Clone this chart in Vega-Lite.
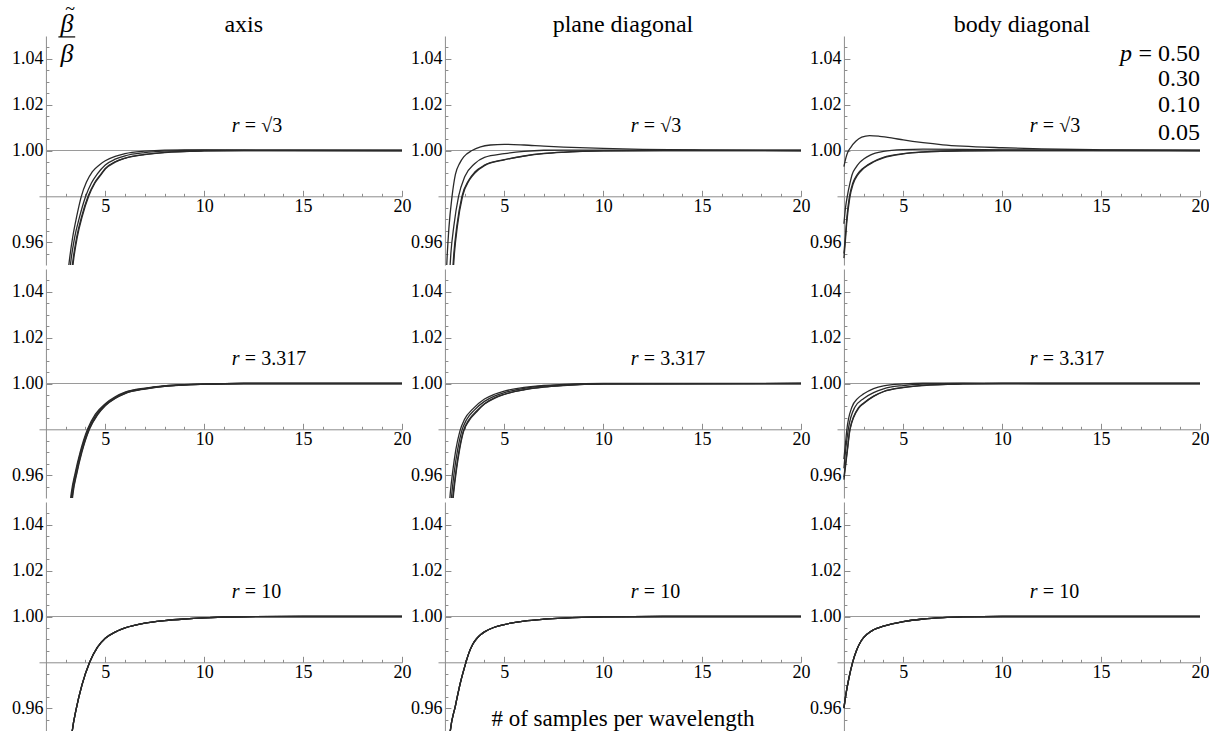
{
"$schema": "https://vega.github.io/schema/vega-lite/v6.json",
"background": "white",
"padding": {"left": 11, "top": 0, "right": 0, "bottom": 0},
"bounds": "flush",
"columns": 3,
"spacing": {"row": 4, "column": 36},
"config": {"view": {"stroke": null}, "text": {"font": "Liberation Serif", "color": "#000"}, "axis": {"labelFont": "Liberation Serif", "labelFontSize": 18, "labelColor": "#000", "tickColor": "#8c8c8c", "domainColor": "#8c8c8c", "grid": false}},
"datasets": {"curves": [
{"panel":"A1","p":"0.50","x":3.08,"y":0.944},{"panel":"A1","p":"0.50","x":3.2,"y":0.953},{"panel":"A1","p":"0.50","x":3.35,"y":0.962},{"panel":"A1","p":"0.50","x":3.55,"y":0.971},{"panel":"A1","p":"0.50","x":3.79,"y":0.98},{"panel":"A1","p":"0.50","x":4.05,"y":0.9862},{"panel":"A1","p":"0.50","x":4.35,"y":0.9908},{"panel":"A1","p":"0.50","x":4.7,"y":0.9937},{"panel":"A1","p":"0.50","x":5,"y":0.9955},{"panel":"A1","p":"0.50","x":5.5,"y":0.9974},{"panel":"A1","p":"0.50","x":6,"y":0.9986},{"panel":"A1","p":"0.50","x":7,"y":0.9997},{"panel":"A1","p":"0.50","x":8,"y":1.0002},{"panel":"A1","p":"0.50","x":9,"y":1.0003},{"panel":"A1","p":"0.50","x":11,"y":1.0003},{"panel":"A1","p":"0.50","x":14,"y":1.0001},{"panel":"A1","p":"0.50","x":20,"y":1.0},
{"panel":"A1","p":"0.30","x":3.16,"y":0.944},{"panel":"A1","p":"0.30","x":3.28,"y":0.953},{"panel":"A1","p":"0.30","x":3.45,"y":0.962},{"panel":"A1","p":"0.30","x":3.7,"y":0.971},{"panel":"A1","p":"0.30","x":4.01,"y":0.98},{"panel":"A1","p":"0.30","x":4.3,"y":0.9858},{"panel":"A1","p":"0.30","x":4.6,"y":0.9898},{"panel":"A1","p":"0.30","x":5,"y":0.9937},{"panel":"A1","p":"0.30","x":5.5,"y":0.9962},{"panel":"A1","p":"0.30","x":6,"y":0.9977},{"panel":"A1","p":"0.30","x":7,"y":0.9991},{"panel":"A1","p":"0.30","x":8,"y":0.9997},{"panel":"A1","p":"0.30","x":10,"y":1.0001},{"panel":"A1","p":"0.30","x":20,"y":1.0},
{"panel":"A1","p":"0.10","x":3.26,"y":0.944},{"panel":"A1","p":"0.10","x":3.38,"y":0.953},{"panel":"A1","p":"0.10","x":3.55,"y":0.962},{"panel":"A1","p":"0.10","x":3.8,"y":0.971},{"panel":"A1","p":"0.10","x":4.13,"y":0.98},{"panel":"A1","p":"0.10","x":4.45,"y":0.9858},{"panel":"A1","p":"0.10","x":4.77,"y":0.9896},{"panel":"A1","p":"0.10","x":5,"y":0.9922},{"panel":"A1","p":"0.10","x":5.5,"y":0.9951},{"panel":"A1","p":"0.10","x":6,"y":0.9967},{"panel":"A1","p":"0.10","x":7,"y":0.9983},{"panel":"A1","p":"0.10","x":8,"y":0.9992},{"panel":"A1","p":"0.10","x":10,"y":0.9998},{"panel":"A1","p":"0.10","x":12,"y":1.0},{"panel":"A1","p":"0.10","x":20,"y":1.0},
{"panel":"A1","p":"0.05","x":3.29,"y":0.944},{"panel":"A1","p":"0.05","x":3.41,"y":0.953},{"panel":"A1","p":"0.05","x":3.58,"y":0.962},{"panel":"A1","p":"0.05","x":3.83,"y":0.971},{"panel":"A1","p":"0.05","x":4.16,"y":0.98},{"panel":"A1","p":"0.05","x":4.48,"y":0.9858},{"panel":"A1","p":"0.05","x":4.8,"y":0.9896},{"panel":"A1","p":"0.05","x":5,"y":0.9919},{"panel":"A1","p":"0.05","x":5.5,"y":0.9949},{"panel":"A1","p":"0.05","x":6,"y":0.9966},{"panel":"A1","p":"0.05","x":7,"y":0.9982},{"panel":"A1","p":"0.05","x":8,"y":0.9991},{"panel":"A1","p":"0.05","x":10,"y":0.9998},{"panel":"A1","p":"0.05","x":12,"y":1.0},{"panel":"A1","p":"0.05","x":20,"y":1.0},
{"panel":"P1","p":"0.50","x":2.06,"y":0.944},{"panel":"P1","p":"0.50","x":2.12,"y":0.955},{"panel":"P1","p":"0.50","x":2.2,"y":0.966},{"panel":"P1","p":"0.50","x":2.36,"y":0.98},{"panel":"P1","p":"0.50","x":2.53,"y":0.9896},{"panel":"P1","p":"0.50","x":2.75,"y":0.9945},{"panel":"P1","p":"0.50","x":2.95,"y":0.9972},{"panel":"P1","p":"0.50","x":3.37,"y":1.0},{"panel":"P1","p":"0.50","x":3.8,"y":1.0016},{"panel":"P1","p":"0.50","x":4.3,"y":1.0024},{"panel":"P1","p":"0.50","x":5,"y":1.0027},{"panel":"P1","p":"0.50","x":6,"y":1.0024},{"panel":"P1","p":"0.50","x":7,"y":1.0019},{"panel":"P1","p":"0.50","x":8,"y":1.0015},{"panel":"P1","p":"0.50","x":10,"y":1.0009},{"panel":"P1","p":"0.50","x":12,"y":1.0005},{"panel":"P1","p":"0.50","x":15,"y":1.0002},{"panel":"P1","p":"0.50","x":20,"y":1.0},
{"panel":"P1","p":"0.30","x":2.22,"y":0.944},{"panel":"P1","p":"0.30","x":2.3,"y":0.955},{"panel":"P1","p":"0.30","x":2.45,"y":0.967},{"panel":"P1","p":"0.30","x":2.69,"y":0.98},{"panel":"P1","p":"0.30","x":3.0,"y":0.9885},{"panel":"P1","p":"0.30","x":3.5,"y":0.9942},{"panel":"P1","p":"0.30","x":4,"y":0.997},{"panel":"P1","p":"0.30","x":5,"y":0.9986},{"panel":"P1","p":"0.30","x":6,"y":0.9996},{"panel":"P1","p":"0.30","x":7,"y":1.0001},{"panel":"P1","p":"0.30","x":8,"y":1.0002},{"panel":"P1","p":"0.30","x":10,"y":1.0002},{"panel":"P1","p":"0.30","x":14,"y":1.0001},{"panel":"P1","p":"0.30","x":20,"y":1.0},
{"panel":"P1","p":"0.10","x":2.36,"y":0.944},{"panel":"P1","p":"0.10","x":2.45,"y":0.955},{"panel":"P1","p":"0.10","x":2.6,"y":0.967},{"panel":"P1","p":"0.10","x":2.86,"y":0.98},{"panel":"P1","p":"0.10","x":3.2,"y":0.987},{"panel":"P1","p":"0.10","x":3.5,"y":0.9905},{"panel":"P1","p":"0.10","x":4,"y":0.9936},{"panel":"P1","p":"0.10","x":5,"y":0.996},{"panel":"P1","p":"0.10","x":6,"y":0.9976},{"panel":"P1","p":"0.10","x":7,"y":0.9987},{"panel":"P1","p":"0.10","x":8,"y":0.9993},{"panel":"P1","p":"0.10","x":10,"y":0.9998},{"panel":"P1","p":"0.10","x":13,"y":1.0},{"panel":"P1","p":"0.10","x":20,"y":1.0},
{"panel":"P1","p":"0.05","x":2.39,"y":0.944},{"panel":"P1","p":"0.05","x":2.48,"y":0.955},{"panel":"P1","p":"0.05","x":2.63,"y":0.967},{"panel":"P1","p":"0.05","x":2.89,"y":0.98},{"panel":"P1","p":"0.05","x":3.23,"y":0.987},{"panel":"P1","p":"0.05","x":3.53,"y":0.9903},{"panel":"P1","p":"0.05","x":4,"y":0.9934},{"panel":"P1","p":"0.05","x":5,"y":0.9959},{"panel":"P1","p":"0.05","x":6,"y":0.9975},{"panel":"P1","p":"0.05","x":7,"y":0.9986},{"panel":"P1","p":"0.05","x":8,"y":0.9992},{"panel":"P1","p":"0.05","x":10,"y":0.9998},{"panel":"P1","p":"0.05","x":13,"y":1.0},{"panel":"P1","p":"0.05","x":20,"y":1.0},
{"panel":"B1","p":"0.50","x":2.0,"y":0.993},{"panel":"B1","p":"0.50","x":2.1,"y":0.9968},{"panel":"B1","p":"0.50","x":2.2,"y":0.9993},{"panel":"B1","p":"0.50","x":2.34,"y":1.0013},{"panel":"B1","p":"0.50","x":2.6,"y":1.004},{"panel":"B1","p":"0.50","x":2.9,"y":1.0058},{"panel":"B1","p":"0.50","x":3.3,"y":1.0065},{"panel":"B1","p":"0.50","x":3.8,"y":1.0062},{"panel":"B1","p":"0.50","x":4.4,"y":1.0055},{"panel":"B1","p":"0.50","x":5,"y":1.0046},{"panel":"B1","p":"0.50","x":6,"y":1.0034},{"panel":"B1","p":"0.50","x":7,"y":1.0025},{"panel":"B1","p":"0.50","x":8,"y":1.0019},{"panel":"B1","p":"0.50","x":10,"y":1.0012},{"panel":"B1","p":"0.50","x":12,"y":1.0007},{"panel":"B1","p":"0.50","x":15,"y":1.0003},{"panel":"B1","p":"0.50","x":20,"y":1.0},
{"panel":"B1","p":"0.30","x":2.0,"y":0.968},{"panel":"B1","p":"0.30","x":2.08,"y":0.975},{"panel":"B1","p":"0.30","x":2.17,"y":0.98},{"panel":"B1","p":"0.30","x":2.3,"y":0.9855},{"panel":"B1","p":"0.30","x":2.42,"y":0.9896},{"panel":"B1","p":"0.30","x":2.6,"y":0.9925},{"panel":"B1","p":"0.30","x":2.8,"y":0.9948},{"panel":"B1","p":"0.30","x":3.0,"y":0.9963},{"panel":"B1","p":"0.30","x":3.33,"y":0.998},{"panel":"B1","p":"0.30","x":4,"y":0.9996},{"panel":"B1","p":"0.30","x":5,"y":1.0004},{"panel":"B1","p":"0.30","x":6,"y":1.0006},{"panel":"B1","p":"0.30","x":8,"y":1.0005},{"panel":"B1","p":"0.30","x":10,"y":1.0003},{"panel":"B1","p":"0.30","x":14,"y":1.0001},{"panel":"B1","p":"0.30","x":20,"y":1.0},
{"panel":"B1","p":"0.10","x":2.0,"y":0.955},{"panel":"B1","p":"0.10","x":2.06,"y":0.961},{"panel":"B1","p":"0.10","x":2.15,"y":0.971},{"panel":"B1","p":"0.10","x":2.28,"y":0.98},{"panel":"B1","p":"0.10","x":2.45,"y":0.9858},{"panel":"B1","p":"0.10","x":2.68,"y":0.9896},{"panel":"B1","p":"0.10","x":3.0,"y":0.9925},{"panel":"B1","p":"0.10","x":3.5,"y":0.9952},{"panel":"B1","p":"0.10","x":4,"y":0.997},{"panel":"B1","p":"0.10","x":5,"y":0.9986},{"panel":"B1","p":"0.10","x":6,"y":0.9994},{"panel":"B1","p":"0.10","x":8,"y":0.9999},{"panel":"B1","p":"0.10","x":10,"y":1.0},{"panel":"B1","p":"0.10","x":20,"y":1.0},
{"panel":"B1","p":"0.05","x":2.0,"y":0.953},{"panel":"B1","p":"0.05","x":2.06,"y":0.959},{"panel":"B1","p":"0.05","x":2.15,"y":0.969},{"panel":"B1","p":"0.05","x":2.29,"y":0.979},{"panel":"B1","p":"0.05","x":2.47,"y":0.9855},{"panel":"B1","p":"0.05","x":2.7,"y":0.9893},{"panel":"B1","p":"0.05","x":3.0,"y":0.9922},{"panel":"B1","p":"0.05","x":3.5,"y":0.995},{"panel":"B1","p":"0.05","x":4,"y":0.9968},{"panel":"B1","p":"0.05","x":5,"y":0.9985},{"panel":"B1","p":"0.05","x":6,"y":0.9993},{"panel":"B1","p":"0.05","x":8,"y":0.9999},{"panel":"B1","p":"0.05","x":10,"y":1.0},{"panel":"B1","p":"0.05","x":20,"y":1.0},
{"panel":"A2","p":"0.50","x":3.18,"y":0.944},{"panel":"A2","p":"0.50","x":3.28,"y":0.952},{"panel":"A2","p":"0.50","x":3.48,"y":0.961},{"panel":"A2","p":"0.50","x":3.73,"y":0.97},{"panel":"A2","p":"0.50","x":4.1,"y":0.98},{"panel":"A2","p":"0.50","x":4.5,"y":0.9866},{"panel":"A2","p":"0.50","x":5,"y":0.9912},{"panel":"A2","p":"0.50","x":5.5,"y":0.9942},{"panel":"A2","p":"0.50","x":6,"y":0.9962},{"panel":"A2","p":"0.50","x":7,"y":0.998},{"panel":"A2","p":"0.50","x":8,"y":0.999},{"panel":"A2","p":"0.50","x":9,"y":0.9995},{"panel":"A2","p":"0.50","x":10,"y":0.9998},{"panel":"A2","p":"0.50","x":12,"y":1.0},{"panel":"A2","p":"0.50","x":20,"y":1.0},
{"panel":"A2","p":"0.30","x":3.21,"y":0.944},{"panel":"A2","p":"0.30","x":3.31,"y":0.952},{"panel":"A2","p":"0.30","x":3.51,"y":0.961},{"panel":"A2","p":"0.30","x":3.76,"y":0.97},{"panel":"A2","p":"0.30","x":4.14,"y":0.98},{"panel":"A2","p":"0.30","x":4.55,"y":0.9865},{"panel":"A2","p":"0.30","x":5,"y":0.9908},{"panel":"A2","p":"0.30","x":5.5,"y":0.9939},{"panel":"A2","p":"0.30","x":6,"y":0.996},{"panel":"A2","p":"0.30","x":7,"y":0.9978},{"panel":"A2","p":"0.30","x":8,"y":0.9989},{"panel":"A2","p":"0.30","x":9,"y":0.9994},{"panel":"A2","p":"0.30","x":10,"y":0.9997},{"panel":"A2","p":"0.30","x":12,"y":1.0},{"panel":"A2","p":"0.30","x":20,"y":1.0},
{"panel":"A2","p":"0.10","x":3.25,"y":0.944},{"panel":"A2","p":"0.10","x":3.35,"y":0.952},{"panel":"A2","p":"0.10","x":3.55,"y":0.961},{"panel":"A2","p":"0.10","x":3.8,"y":0.97},{"panel":"A2","p":"0.10","x":4.18,"y":0.98},{"panel":"A2","p":"0.10","x":4.6,"y":0.9865},{"panel":"A2","p":"0.10","x":5,"y":0.9905},{"panel":"A2","p":"0.10","x":5.5,"y":0.9936},{"panel":"A2","p":"0.10","x":6,"y":0.9957},{"panel":"A2","p":"0.10","x":7,"y":0.9977},{"panel":"A2","p":"0.10","x":8,"y":0.9988},{"panel":"A2","p":"0.10","x":9,"y":0.9994},{"panel":"A2","p":"0.10","x":10,"y":0.9997},{"panel":"A2","p":"0.10","x":12,"y":1.0},{"panel":"A2","p":"0.10","x":20,"y":1.0},
{"panel":"A2","p":"0.05","x":3.27,"y":0.944},{"panel":"A2","p":"0.05","x":3.37,"y":0.952},{"panel":"A2","p":"0.05","x":3.57,"y":0.961},{"panel":"A2","p":"0.05","x":3.82,"y":0.97},{"panel":"A2","p":"0.05","x":4.2,"y":0.98},{"panel":"A2","p":"0.05","x":4.62,"y":0.9864},{"panel":"A2","p":"0.05","x":5,"y":0.9903},{"panel":"A2","p":"0.05","x":5.5,"y":0.9935},{"panel":"A2","p":"0.05","x":6,"y":0.9956},{"panel":"A2","p":"0.05","x":7,"y":0.9976},{"panel":"A2","p":"0.05","x":8,"y":0.9988},{"panel":"A2","p":"0.05","x":9,"y":0.9993},{"panel":"A2","p":"0.05","x":10,"y":0.9997},{"panel":"A2","p":"0.05","x":12,"y":1.0},{"panel":"A2","p":"0.05","x":20,"y":1.0},
{"panel":"P2","p":"0.50","x":2.2,"y":0.944},{"panel":"P2","p":"0.50","x":2.27,"y":0.952},{"panel":"P2","p":"0.50","x":2.4,"y":0.962},{"panel":"P2","p":"0.50","x":2.55,"y":0.971},{"panel":"P2","p":"0.50","x":2.75,"y":0.979},{"panel":"P2","p":"0.50","x":3.0,"y":0.9845},{"panel":"P2","p":"0.50","x":3.4,"y":0.9888},{"panel":"P2","p":"0.50","x":4,"y":0.9932},{"panel":"P2","p":"0.50","x":4.5,"y":0.9953},{"panel":"P2","p":"0.50","x":5,"y":0.9967},{"panel":"P2","p":"0.50","x":6,"y":0.9983},{"panel":"P2","p":"0.50","x":7,"y":0.9992},{"panel":"P2","p":"0.50","x":8,"y":0.9996},{"panel":"P2","p":"0.50","x":10,"y":1.0},{"panel":"P2","p":"0.50","x":20,"y":1.0},
{"panel":"P2","p":"0.30","x":2.27,"y":0.944},{"panel":"P2","p":"0.30","x":2.35,"y":0.952},{"panel":"P2","p":"0.30","x":2.48,"y":0.962},{"panel":"P2","p":"0.30","x":2.64,"y":0.971},{"panel":"P2","p":"0.30","x":2.84,"y":0.979},{"panel":"P2","p":"0.30","x":3.1,"y":0.9843},{"panel":"P2","p":"0.30","x":3.5,"y":0.9885},{"panel":"P2","p":"0.30","x":4,"y":0.9922},{"panel":"P2","p":"0.30","x":4.5,"y":0.9945},{"panel":"P2","p":"0.30","x":5,"y":0.996},{"panel":"P2","p":"0.30","x":6,"y":0.9979},{"panel":"P2","p":"0.30","x":7,"y":0.9989},{"panel":"P2","p":"0.30","x":8,"y":0.9994},{"panel":"P2","p":"0.30","x":10,"y":0.9999},{"panel":"P2","p":"0.30","x":20,"y":1.0},
{"panel":"P2","p":"0.10","x":2.33,"y":0.944},{"panel":"P2","p":"0.10","x":2.42,"y":0.952},{"panel":"P2","p":"0.10","x":2.56,"y":0.962},{"panel":"P2","p":"0.10","x":2.72,"y":0.971},{"panel":"P2","p":"0.10","x":2.92,"y":0.979},{"panel":"P2","p":"0.10","x":3.2,"y":0.984},{"panel":"P2","p":"0.10","x":3.6,"y":0.988},{"panel":"P2","p":"0.10","x":4,"y":0.9912},{"panel":"P2","p":"0.10","x":4.5,"y":0.9937},{"panel":"P2","p":"0.10","x":5,"y":0.9953},{"panel":"P2","p":"0.10","x":6,"y":0.9973},{"panel":"P2","p":"0.10","x":7,"y":0.9985},{"panel":"P2","p":"0.10","x":8,"y":0.9992},{"panel":"P2","p":"0.10","x":10,"y":0.9998},{"panel":"P2","p":"0.10","x":20,"y":1.0},
{"panel":"P2","p":"0.05","x":2.35,"y":0.944},{"panel":"P2","p":"0.05","x":2.44,"y":0.952},{"panel":"P2","p":"0.05","x":2.58,"y":0.962},{"panel":"P2","p":"0.05","x":2.74,"y":0.971},{"panel":"P2","p":"0.05","x":2.94,"y":0.979},{"panel":"P2","p":"0.05","x":3.22,"y":0.9838},{"panel":"P2","p":"0.05","x":3.62,"y":0.9878},{"panel":"P2","p":"0.05","x":4,"y":0.991},{"panel":"P2","p":"0.05","x":4.5,"y":0.9935},{"panel":"P2","p":"0.05","x":5,"y":0.9952},{"panel":"P2","p":"0.05","x":6,"y":0.9972},{"panel":"P2","p":"0.05","x":7,"y":0.9984},{"panel":"P2","p":"0.05","x":8,"y":0.9991},{"panel":"P2","p":"0.05","x":10,"y":0.9998},{"panel":"P2","p":"0.05","x":20,"y":1.0},
{"panel":"B2","p":"0.50","x":2.0,"y":0.967},{"panel":"B2","p":"0.50","x":2.08,"y":0.974},{"panel":"B2","p":"0.50","x":2.15,"y":0.98},{"panel":"B2","p":"0.50","x":2.4,"y":0.9896},{"panel":"B2","p":"0.50","x":2.7,"y":0.9935},{"panel":"B2","p":"0.50","x":3,"y":0.9955},{"panel":"B2","p":"0.50","x":3.5,"y":0.9978},{"panel":"B2","p":"0.50","x":4,"y":0.999},{"panel":"B2","p":"0.50","x":5,"y":0.9998},{"panel":"B2","p":"0.50","x":6,"y":1.0001},{"panel":"B2","p":"0.50","x":8,"y":1.0001},{"panel":"B2","p":"0.50","x":12,"y":1.0},{"panel":"B2","p":"0.50","x":20,"y":1.0},
{"panel":"B2","p":"0.30","x":2.0,"y":0.963},{"panel":"B2","p":"0.30","x":2.1,"y":0.972},{"panel":"B2","p":"0.30","x":2.22,"y":0.98},{"panel":"B2","p":"0.30","x":2.55,"y":0.9896},{"panel":"B2","p":"0.30","x":3,"y":0.9935},{"panel":"B2","p":"0.30","x":3.5,"y":0.996},{"panel":"B2","p":"0.30","x":4,"y":0.9977},{"panel":"B2","p":"0.30","x":5,"y":0.9991},{"panel":"B2","p":"0.30","x":6,"y":0.9997},{"panel":"B2","p":"0.30","x":8,"y":1.0},{"panel":"B2","p":"0.30","x":20,"y":1.0},
{"panel":"B2","p":"0.10","x":2.0,"y":0.959},{"panel":"B2","p":"0.10","x":2.07,"y":0.964},{"panel":"B2","p":"0.10","x":2.17,"y":0.971},{"panel":"B2","p":"0.10","x":2.3,"y":0.98},{"panel":"B2","p":"0.10","x":2.75,"y":0.9896},{"panel":"B2","p":"0.10","x":3,"y":0.9915},{"panel":"B2","p":"0.10","x":3.5,"y":0.9945},{"panel":"B2","p":"0.10","x":4,"y":0.9965},{"panel":"B2","p":"0.10","x":5,"y":0.9983},{"panel":"B2","p":"0.10","x":6,"y":0.9992},{"panel":"B2","p":"0.10","x":8,"y":0.9998},{"panel":"B2","p":"0.10","x":10,"y":1.0},{"panel":"B2","p":"0.10","x":20,"y":1.0},
{"panel":"B2","p":"0.05","x":2.0,"y":0.958},{"panel":"B2","p":"0.05","x":2.07,"y":0.963},{"panel":"B2","p":"0.05","x":2.18,"y":0.971},{"panel":"B2","p":"0.05","x":2.31,"y":0.98},{"panel":"B2","p":"0.05","x":2.77,"y":0.9895},{"panel":"B2","p":"0.05","x":3,"y":0.9913},{"panel":"B2","p":"0.05","x":3.5,"y":0.9944},{"panel":"B2","p":"0.05","x":4,"y":0.9964},{"panel":"B2","p":"0.05","x":5,"y":0.9982},{"panel":"B2","p":"0.05","x":6,"y":0.9991},{"panel":"B2","p":"0.05","x":8,"y":0.9998},{"panel":"B2","p":"0.05","x":10,"y":1.0},{"panel":"B2","p":"0.05","x":20,"y":1.0},
{"panel":"A3","p":"0.50","x":3.25,"y":0.944},{"panel":"A3","p":"0.50","x":3.33,"y":0.95},{"panel":"A3","p":"0.50","x":3.54,"y":0.96},{"panel":"A3","p":"0.50","x":3.82,"y":0.97},{"panel":"A3","p":"0.50","x":4.21,"y":0.98},{"panel":"A3","p":"0.50","x":4.6,"y":0.9865},{"panel":"A3","p":"0.50","x":5,"y":0.9905},{"panel":"A3","p":"0.50","x":5.5,"y":0.9932},{"panel":"A3","p":"0.50","x":6,"y":0.995},{"panel":"A3","p":"0.50","x":7,"y":0.9971},{"panel":"A3","p":"0.50","x":8,"y":0.9982},{"panel":"A3","p":"0.50","x":9,"y":0.9989},{"panel":"A3","p":"0.50","x":10,"y":0.9994},{"panel":"A3","p":"0.50","x":12,"y":0.9999},{"panel":"A3","p":"0.50","x":15,"y":1.0},{"panel":"A3","p":"0.50","x":20,"y":1.0},
{"panel":"A3","p":"0.30","x":3.25,"y":0.944},{"panel":"A3","p":"0.30","x":3.33,"y":0.95},{"panel":"A3","p":"0.30","x":3.54,"y":0.96},{"panel":"A3","p":"0.30","x":3.82,"y":0.97},{"panel":"A3","p":"0.30","x":4.21,"y":0.98},{"panel":"A3","p":"0.30","x":4.6,"y":0.9865},{"panel":"A3","p":"0.30","x":5,"y":0.9905},{"panel":"A3","p":"0.30","x":5.5,"y":0.9932},{"panel":"A3","p":"0.30","x":6,"y":0.995},{"panel":"A3","p":"0.30","x":7,"y":0.9971},{"panel":"A3","p":"0.30","x":8,"y":0.9982},{"panel":"A3","p":"0.30","x":9,"y":0.9989},{"panel":"A3","p":"0.30","x":10,"y":0.9994},{"panel":"A3","p":"0.30","x":12,"y":0.9999},{"panel":"A3","p":"0.30","x":15,"y":1.0},{"panel":"A3","p":"0.30","x":20,"y":1.0},
{"panel":"A3","p":"0.10","x":3.25,"y":0.944},{"panel":"A3","p":"0.10","x":3.33,"y":0.95},{"panel":"A3","p":"0.10","x":3.54,"y":0.96},{"panel":"A3","p":"0.10","x":3.82,"y":0.97},{"panel":"A3","p":"0.10","x":4.21,"y":0.98},{"panel":"A3","p":"0.10","x":4.6,"y":0.9865},{"panel":"A3","p":"0.10","x":5,"y":0.9905},{"panel":"A3","p":"0.10","x":5.5,"y":0.9932},{"panel":"A3","p":"0.10","x":6,"y":0.995},{"panel":"A3","p":"0.10","x":7,"y":0.9971},{"panel":"A3","p":"0.10","x":8,"y":0.9982},{"panel":"A3","p":"0.10","x":9,"y":0.9989},{"panel":"A3","p":"0.10","x":10,"y":0.9994},{"panel":"A3","p":"0.10","x":12,"y":0.9999},{"panel":"A3","p":"0.10","x":15,"y":1.0},{"panel":"A3","p":"0.10","x":20,"y":1.0},
{"panel":"A3","p":"0.05","x":3.25,"y":0.944},{"panel":"A3","p":"0.05","x":3.33,"y":0.95},{"panel":"A3","p":"0.05","x":3.54,"y":0.96},{"panel":"A3","p":"0.05","x":3.82,"y":0.97},{"panel":"A3","p":"0.05","x":4.21,"y":0.98},{"panel":"A3","p":"0.05","x":4.6,"y":0.9865},{"panel":"A3","p":"0.05","x":5,"y":0.9905},{"panel":"A3","p":"0.05","x":5.5,"y":0.9932},{"panel":"A3","p":"0.05","x":6,"y":0.995},{"panel":"A3","p":"0.05","x":7,"y":0.9971},{"panel":"A3","p":"0.05","x":8,"y":0.9982},{"panel":"A3","p":"0.05","x":9,"y":0.9989},{"panel":"A3","p":"0.05","x":10,"y":0.9994},{"panel":"A3","p":"0.05","x":12,"y":0.9999},{"panel":"A3","p":"0.05","x":15,"y":1.0},{"panel":"A3","p":"0.05","x":20,"y":1.0},
{"panel":"P3","p":"0.50","x":2.2,"y":0.944},{"panel":"P3","p":"0.50","x":2.27,"y":0.95},{"panel":"P3","p":"0.50","x":2.53,"y":0.961},{"panel":"P3","p":"0.50","x":2.78,"y":0.971},{"panel":"P3","p":"0.50","x":3.03,"y":0.979},{"panel":"P3","p":"0.50","x":3.2,"y":0.9838},{"panel":"P3","p":"0.50","x":3.4,"y":0.9878},{"panel":"P3","p":"0.50","x":3.6,"y":0.9903},{"panel":"P3","p":"0.50","x":3.8,"y":0.992},{"panel":"P3","p":"0.50","x":4,"y":0.9933},{"panel":"P3","p":"0.50","x":4.5,"y":0.9953},{"panel":"P3","p":"0.50","x":5,"y":0.9965},{"panel":"P3","p":"0.50","x":6,"y":0.998},{"panel":"P3","p":"0.50","x":7,"y":0.9988},{"panel":"P3","p":"0.50","x":8,"y":0.9993},{"panel":"P3","p":"0.50","x":10,"y":0.9998},{"panel":"P3","p":"0.50","x":13,"y":1.0},{"panel":"P3","p":"0.50","x":20,"y":1.0},
{"panel":"P3","p":"0.30","x":2.2,"y":0.944},{"panel":"P3","p":"0.30","x":2.27,"y":0.95},{"panel":"P3","p":"0.30","x":2.53,"y":0.961},{"panel":"P3","p":"0.30","x":2.78,"y":0.971},{"panel":"P3","p":"0.30","x":3.03,"y":0.979},{"panel":"P3","p":"0.30","x":3.2,"y":0.9838},{"panel":"P3","p":"0.30","x":3.4,"y":0.9878},{"panel":"P3","p":"0.30","x":3.6,"y":0.9903},{"panel":"P3","p":"0.30","x":3.8,"y":0.992},{"panel":"P3","p":"0.30","x":4,"y":0.9933},{"panel":"P3","p":"0.30","x":4.5,"y":0.9953},{"panel":"P3","p":"0.30","x":5,"y":0.9965},{"panel":"P3","p":"0.30","x":6,"y":0.998},{"panel":"P3","p":"0.30","x":7,"y":0.9988},{"panel":"P3","p":"0.30","x":8,"y":0.9993},{"panel":"P3","p":"0.30","x":10,"y":0.9998},{"panel":"P3","p":"0.30","x":13,"y":1.0},{"panel":"P3","p":"0.30","x":20,"y":1.0},
{"panel":"P3","p":"0.10","x":2.2,"y":0.944},{"panel":"P3","p":"0.10","x":2.27,"y":0.95},{"panel":"P3","p":"0.10","x":2.53,"y":0.961},{"panel":"P3","p":"0.10","x":2.78,"y":0.971},{"panel":"P3","p":"0.10","x":3.03,"y":0.979},{"panel":"P3","p":"0.10","x":3.2,"y":0.9838},{"panel":"P3","p":"0.10","x":3.4,"y":0.9878},{"panel":"P3","p":"0.10","x":3.6,"y":0.9903},{"panel":"P3","p":"0.10","x":3.8,"y":0.992},{"panel":"P3","p":"0.10","x":4,"y":0.9933},{"panel":"P3","p":"0.10","x":4.5,"y":0.9953},{"panel":"P3","p":"0.10","x":5,"y":0.9965},{"panel":"P3","p":"0.10","x":6,"y":0.998},{"panel":"P3","p":"0.10","x":7,"y":0.9988},{"panel":"P3","p":"0.10","x":8,"y":0.9993},{"panel":"P3","p":"0.10","x":10,"y":0.9998},{"panel":"P3","p":"0.10","x":13,"y":1.0},{"panel":"P3","p":"0.10","x":20,"y":1.0},
{"panel":"P3","p":"0.05","x":2.2,"y":0.944},{"panel":"P3","p":"0.05","x":2.27,"y":0.95},{"panel":"P3","p":"0.05","x":2.53,"y":0.961},{"panel":"P3","p":"0.05","x":2.78,"y":0.971},{"panel":"P3","p":"0.05","x":3.03,"y":0.979},{"panel":"P3","p":"0.05","x":3.2,"y":0.9838},{"panel":"P3","p":"0.05","x":3.4,"y":0.9878},{"panel":"P3","p":"0.05","x":3.6,"y":0.9903},{"panel":"P3","p":"0.05","x":3.8,"y":0.992},{"panel":"P3","p":"0.05","x":4,"y":0.9933},{"panel":"P3","p":"0.05","x":4.5,"y":0.9953},{"panel":"P3","p":"0.05","x":5,"y":0.9965},{"panel":"P3","p":"0.05","x":6,"y":0.998},{"panel":"P3","p":"0.05","x":7,"y":0.9988},{"panel":"P3","p":"0.05","x":8,"y":0.9993},{"panel":"P3","p":"0.05","x":10,"y":0.9998},{"panel":"P3","p":"0.05","x":13,"y":1.0},{"panel":"P3","p":"0.05","x":20,"y":1.0},
{"panel":"B3","p":"0.50","x":2.0,"y":0.96},{"panel":"B3","p":"0.50","x":2.1,"y":0.966},{"panel":"B3","p":"0.50","x":2.25,"y":0.973},{"panel":"B3","p":"0.50","x":2.44,"y":0.98},{"panel":"B3","p":"0.50","x":2.65,"y":0.9855},{"panel":"B3","p":"0.50","x":2.86,"y":0.9892},{"panel":"B3","p":"0.50","x":3.2,"y":0.9925},{"panel":"B3","p":"0.50","x":3.5,"y":0.9942},{"panel":"B3","p":"0.50","x":4,"y":0.9958},{"panel":"B3","p":"0.50","x":5,"y":0.9978},{"panel":"B3","p":"0.50","x":6,"y":0.9989},{"panel":"B3","p":"0.50","x":7,"y":0.9995},{"panel":"B3","p":"0.50","x":8,"y":0.9998},{"panel":"B3","p":"0.50","x":10,"y":1.0},{"panel":"B3","p":"0.50","x":20,"y":1.0},
{"panel":"B3","p":"0.30","x":2.0,"y":0.96},{"panel":"B3","p":"0.30","x":2.1,"y":0.966},{"panel":"B3","p":"0.30","x":2.25,"y":0.973},{"panel":"B3","p":"0.30","x":2.44,"y":0.98},{"panel":"B3","p":"0.30","x":2.65,"y":0.9855},{"panel":"B3","p":"0.30","x":2.86,"y":0.9892},{"panel":"B3","p":"0.30","x":3.2,"y":0.9925},{"panel":"B3","p":"0.30","x":3.5,"y":0.9942},{"panel":"B3","p":"0.30","x":4,"y":0.9958},{"panel":"B3","p":"0.30","x":5,"y":0.9978},{"panel":"B3","p":"0.30","x":6,"y":0.9989},{"panel":"B3","p":"0.30","x":7,"y":0.9995},{"panel":"B3","p":"0.30","x":8,"y":0.9998},{"panel":"B3","p":"0.30","x":10,"y":1.0},{"panel":"B3","p":"0.30","x":20,"y":1.0},
{"panel":"B3","p":"0.10","x":2.0,"y":0.96},{"panel":"B3","p":"0.10","x":2.1,"y":0.966},{"panel":"B3","p":"0.10","x":2.25,"y":0.973},{"panel":"B3","p":"0.10","x":2.44,"y":0.98},{"panel":"B3","p":"0.10","x":2.65,"y":0.9855},{"panel":"B3","p":"0.10","x":2.86,"y":0.9892},{"panel":"B3","p":"0.10","x":3.2,"y":0.9925},{"panel":"B3","p":"0.10","x":3.5,"y":0.9942},{"panel":"B3","p":"0.10","x":4,"y":0.9958},{"panel":"B3","p":"0.10","x":5,"y":0.9978},{"panel":"B3","p":"0.10","x":6,"y":0.9989},{"panel":"B3","p":"0.10","x":7,"y":0.9995},{"panel":"B3","p":"0.10","x":8,"y":0.9998},{"panel":"B3","p":"0.10","x":10,"y":1.0},{"panel":"B3","p":"0.10","x":20,"y":1.0},
{"panel":"B3","p":"0.05","x":2.0,"y":0.96},{"panel":"B3","p":"0.05","x":2.1,"y":0.966},{"panel":"B3","p":"0.05","x":2.25,"y":0.973},{"panel":"B3","p":"0.05","x":2.44,"y":0.98},{"panel":"B3","p":"0.05","x":2.65,"y":0.9855},{"panel":"B3","p":"0.05","x":2.86,"y":0.9892},{"panel":"B3","p":"0.05","x":3.2,"y":0.9925},{"panel":"B3","p":"0.05","x":3.5,"y":0.9942},{"panel":"B3","p":"0.05","x":4,"y":0.9958},{"panel":"B3","p":"0.05","x":5,"y":0.9978},{"panel":"B3","p":"0.05","x":6,"y":0.9989},{"panel":"B3","p":"0.05","x":7,"y":0.9995},{"panel":"B3","p":"0.05","x":8,"y":0.9998},{"panel":"B3","p":"0.05","x":10,"y":1.0},{"panel":"B3","p":"0.05","x":20,"y":1.0}
]},
"concat": [
{"width": 363, "height": 229, "resolve": {"axis": {"x": "independent", "y": "independent"}}, "layer": [
 {"data": {"values": [{}]}, "mark": {"type": "rule", "color": "#9a9a9a", "strokeWidth": 1}, "encoding": {"x": {"datum": 2, "type": "quantitative", "scale": {"domain": [1.65, 20], "nice": false, "zero": false}, "axis": {"orient": "bottom", "offset": -68.7, "values": [3,4,6,7,8,9,11,12,13,14,16,17,18,19], "title": null, "domain": false, "labels": false, "tickSize": -3}}, "x2": {"datum": 20}, "y": {"datum": 1, "type": "quantitative", "scale": {"domain": [0.95, 1.05], "nice": false, "zero": false}, "axis": {"orient": "left", "offset": -6.92, "values": [0.955,0.965,0.97,0.975,0.985,0.99,0.995,1.005,1.01,1.015,1.025,1.03,1.035,1.045], "title": null, "domain": false, "labels": false, "tickSize": -3}}}},
 {"data": {"name": "curves"}, "transform": [{"filter": "datum.panel === 'A1'"}], "mark": {"type": "line", "clip": true, "color": "#2a2a2a", "strokeWidth": 1.3, "interpolate": "monotone"}, "encoding": {"x": {"field": "x", "type": "quantitative", "axis": {"orient": "bottom", "offset": -68.7, "values": [5,10,15,20], "format": "d", "title": null, "tickSize": -6, "labelPadding": 7, "labelFlush": false, "labelOverlap": false}}, "y": {"field": "y", "type": "quantitative", "axis": {"orient": "left", "offset": -6.92, "values": [0.96,1.0,1.02,1.04], "format": ".2f", "title": null, "tickSize": -6, "labelPadding": 9, "labelFlush": false, "labelOverlap": false}}, "detail": {"field": "p", "type": "nominal"}}},
 {"data": {"values": [{}]}, "mark": {"type": "text", "text": "r", "fontSize": 20, "fontStyle": "italic", "align": "left", "baseline": "middle"}, "encoding": {"x": {"datum": 11.4, "type": "quantitative", "axis": null}, "y": {"datum": 1.0105, "type": "quantitative", "axis": null}}},
 {"data": {"values": [{}]}, "mark": {"type": "text", "text": "= √3", "fontSize": 20, "align": "left", "baseline": "middle", "dx": 13}, "encoding": {"x": {"datum": 11.4, "type": "quantitative", "axis": null}, "y": {"datum": 1.0105, "type": "quantitative", "axis": null}}},
 {"data": {"values": [{}]}, "mark": {"type": "text", "text": "axis", "fontSize": 24, "align": "center", "baseline": "alphabetic"}, "encoding": {"x": {"datum": 12, "type": "quantitative", "axis": null}, "y": {"datum": 1.0517, "type": "quantitative", "axis": null}}},
 {"data": {"values": [{}]}, "mark": {"type": "text", "text": "β", "fontSize": 26, "fontStyle": "italic", "align": "center", "baseline": "middle"}, "encoding": {"x": {"datum": 3.06, "type": "quantitative", "axis": null}, "y": {"datum": 1.0552, "type": "quantitative", "axis": null}}},
 {"data": {"values": [{}]}, "mark": {"type": "text", "text": "~", "fontSize": 18, "align": "center", "baseline": "middle"}, "encoding": {"x": {"datum": 3.22, "type": "quantitative", "axis": null}, "y": {"datum": 1.0615, "type": "quantitative", "axis": null}}},
 {"data": {"values": [{}]}, "mark": {"type": "rule", "color": "#000", "strokeWidth": 1.2}, "encoding": {"x": {"datum": 2.63, "type": "quantitative", "axis": null}, "x2": {"datum": 3.48}, "y": {"datum": 1.0496, "type": "quantitative", "axis": null}}},
 {"data": {"values": [{}]}, "mark": {"type": "text", "text": "β", "fontSize": 26, "fontStyle": "italic", "align": "center", "baseline": "middle"}, "encoding": {"x": {"datum": 3.06, "type": "quantitative", "axis": null}, "y": {"datum": 1.0421, "type": "quantitative", "axis": null}}}
]},
{"width": 363, "height": 229, "resolve": {"axis": {"x": "independent", "y": "independent"}}, "layer": [
 {"data": {"values": [{}]}, "mark": {"type": "rule", "color": "#9a9a9a", "strokeWidth": 1}, "encoding": {"x": {"datum": 2, "type": "quantitative", "scale": {"domain": [1.65, 20], "nice": false, "zero": false}, "axis": {"orient": "bottom", "offset": -68.7, "values": [3,4,6,7,8,9,11,12,13,14,16,17,18,19], "title": null, "domain": false, "labels": false, "tickSize": -3}}, "x2": {"datum": 20}, "y": {"datum": 1, "type": "quantitative", "scale": {"domain": [0.95, 1.05], "nice": false, "zero": false}, "axis": {"orient": "left", "offset": -6.92, "values": [0.955,0.965,0.97,0.975,0.985,0.99,0.995,1.005,1.01,1.015,1.025,1.03,1.035,1.045], "title": null, "domain": false, "labels": false, "tickSize": -3}}}},
 {"data": {"name": "curves"}, "transform": [{"filter": "datum.panel === 'P1'"}], "mark": {"type": "line", "clip": true, "color": "#2a2a2a", "strokeWidth": 1.3, "interpolate": "monotone"}, "encoding": {"x": {"field": "x", "type": "quantitative", "axis": {"orient": "bottom", "offset": -68.7, "values": [5,10,15,20], "format": "d", "title": null, "tickSize": -6, "labelPadding": 7, "labelFlush": false, "labelOverlap": false}}, "y": {"field": "y", "type": "quantitative", "axis": {"orient": "left", "offset": -6.92, "values": [0.96,1.0,1.02,1.04], "format": ".2f", "title": null, "tickSize": -6, "labelPadding": 9, "labelFlush": false, "labelOverlap": false}}, "detail": {"field": "p", "type": "nominal"}}},
 {"data": {"values": [{}]}, "mark": {"type": "text", "text": "r", "fontSize": 20, "fontStyle": "italic", "align": "left", "baseline": "middle"}, "encoding": {"x": {"datum": 11.4, "type": "quantitative", "axis": null}, "y": {"datum": 1.0105, "type": "quantitative", "axis": null}}},
 {"data": {"values": [{}]}, "mark": {"type": "text", "text": "= √3", "fontSize": 20, "align": "left", "baseline": "middle", "dx": 13}, "encoding": {"x": {"datum": 11.4, "type": "quantitative", "axis": null}, "y": {"datum": 1.0105, "type": "quantitative", "axis": null}}},
 {"data": {"values": [{}]}, "mark": {"type": "text", "text": "plane diagonal", "fontSize": 24, "align": "center", "baseline": "alphabetic"}, "encoding": {"x": {"datum": 11, "type": "quantitative", "axis": null}, "y": {"datum": 1.0517, "type": "quantitative", "axis": null}}}
]},
{"width": 363, "height": 229, "resolve": {"axis": {"x": "independent", "y": "independent"}}, "layer": [
 {"data": {"values": [{}]}, "mark": {"type": "rule", "color": "#9a9a9a", "strokeWidth": 1}, "encoding": {"x": {"datum": 2, "type": "quantitative", "scale": {"domain": [1.65, 20], "nice": false, "zero": false}, "axis": {"orient": "bottom", "offset": -68.7, "values": [3,4,6,7,8,9,11,12,13,14,16,17,18,19], "title": null, "domain": false, "labels": false, "tickSize": -3}}, "x2": {"datum": 20}, "y": {"datum": 1, "type": "quantitative", "scale": {"domain": [0.95, 1.05], "nice": false, "zero": false}, "axis": {"orient": "left", "offset": -6.92, "values": [0.955,0.965,0.97,0.975,0.985,0.99,0.995,1.005,1.01,1.015,1.025,1.03,1.035,1.045], "title": null, "domain": false, "labels": false, "tickSize": -3}}}},
 {"data": {"name": "curves"}, "transform": [{"filter": "datum.panel === 'B1'"}], "mark": {"type": "line", "clip": true, "color": "#2a2a2a", "strokeWidth": 1.3, "interpolate": "monotone"}, "encoding": {"x": {"field": "x", "type": "quantitative", "axis": {"orient": "bottom", "offset": -68.7, "values": [5,10,15,20], "format": "d", "title": null, "tickSize": -6, "labelPadding": 7, "labelFlush": false, "labelOverlap": false}}, "y": {"field": "y", "type": "quantitative", "axis": {"orient": "left", "offset": -6.92, "values": [0.96,1.0,1.02,1.04], "format": ".2f", "title": null, "tickSize": -6, "labelPadding": 9, "labelFlush": false, "labelOverlap": false}}, "detail": {"field": "p", "type": "nominal"}}},
 {"data": {"values": [{}]}, "mark": {"type": "text", "text": "r", "fontSize": 20, "fontStyle": "italic", "align": "left", "baseline": "middle"}, "encoding": {"x": {"datum": 11.4, "type": "quantitative", "axis": null}, "y": {"datum": 1.0105, "type": "quantitative", "axis": null}}},
 {"data": {"values": [{}]}, "mark": {"type": "text", "text": "= √3", "fontSize": 20, "align": "left", "baseline": "middle", "dx": 13}, "encoding": {"x": {"datum": 11.4, "type": "quantitative", "axis": null}, "y": {"datum": 1.0105, "type": "quantitative", "axis": null}}},
 {"data": {"values": [{}]}, "mark": {"type": "text", "text": "body diagonal", "fontSize": 24, "align": "center", "baseline": "alphabetic"}, "encoding": {"x": {"datum": 11, "type": "quantitative", "axis": null}, "y": {"datum": 1.0517, "type": "quantitative", "axis": null}}},
 {"data": {"values": [{}]}, "mark": {"type": "text", "text": "p", "fontSize": 24, "fontStyle": "italic", "align": "right", "baseline": "middle", "dx": -68}, "encoding": {"x": {"datum": 20, "type": "quantitative", "axis": null}, "y": {"datum": 1.0421, "type": "quantitative", "axis": null}}},
 {"data": {"values": [{}]}, "mark": {"type": "text", "text": "= 0.50", "fontSize": 24, "align": "right", "baseline": "middle"}, "encoding": {"x": {"datum": 20, "type": "quantitative", "axis": null}, "y": {"datum": 1.0421, "type": "quantitative", "axis": null}}},
 {"data": {"values": [{}]}, "mark": {"type": "text", "text": "0.30", "fontSize": 24, "align": "right", "baseline": "middle"}, "encoding": {"x": {"datum": 20, "type": "quantitative", "axis": null}, "y": {"datum": 1.0313, "type": "quantitative", "axis": null}}},
 {"data": {"values": [{}]}, "mark": {"type": "text", "text": "0.10", "fontSize": 24, "align": "right", "baseline": "middle"}, "encoding": {"x": {"datum": 20, "type": "quantitative", "axis": null}, "y": {"datum": 1.0197, "type": "quantitative", "axis": null}}},
 {"data": {"values": [{}]}, "mark": {"type": "text", "text": "0.05", "fontSize": 24, "align": "right", "baseline": "middle"}, "encoding": {"x": {"datum": 20, "type": "quantitative", "axis": null}, "y": {"datum": 1.0078, "type": "quantitative", "axis": null}}}
]},
{"width": 363, "height": 229, "resolve": {"axis": {"x": "independent", "y": "independent"}}, "layer": [
 {"data": {"values": [{}]}, "mark": {"type": "rule", "color": "#9a9a9a", "strokeWidth": 1}, "encoding": {"x": {"datum": 2, "type": "quantitative", "scale": {"domain": [1.65, 20], "nice": false, "zero": false}, "axis": {"orient": "bottom", "offset": -68.7, "values": [3,4,6,7,8,9,11,12,13,14,16,17,18,19], "title": null, "domain": false, "labels": false, "tickSize": -3}}, "x2": {"datum": 20}, "y": {"datum": 1, "type": "quantitative", "scale": {"domain": [0.95, 1.05], "nice": false, "zero": false}, "axis": {"orient": "left", "offset": -6.92, "values": [0.955,0.965,0.97,0.975,0.985,0.99,0.995,1.005,1.01,1.015,1.025,1.03,1.035,1.045], "title": null, "domain": false, "labels": false, "tickSize": -3}}}},
 {"data": {"name": "curves"}, "transform": [{"filter": "datum.panel === 'A2'"}], "mark": {"type": "line", "clip": true, "color": "#2a2a2a", "strokeWidth": 1.3, "interpolate": "monotone"}, "encoding": {"x": {"field": "x", "type": "quantitative", "axis": {"orient": "bottom", "offset": -68.7, "values": [5,10,15,20], "format": "d", "title": null, "tickSize": -6, "labelPadding": 7, "labelFlush": false, "labelOverlap": false}}, "y": {"field": "y", "type": "quantitative", "axis": {"orient": "left", "offset": -6.92, "values": [0.96,1.0,1.02,1.04], "format": ".2f", "title": null, "tickSize": -6, "labelPadding": 9, "labelFlush": false, "labelOverlap": false}}, "detail": {"field": "p", "type": "nominal"}}},
 {"data": {"values": [{}]}, "mark": {"type": "text", "text": "r", "fontSize": 20, "fontStyle": "italic", "align": "left", "baseline": "middle"}, "encoding": {"x": {"datum": 11.4, "type": "quantitative", "axis": null}, "y": {"datum": 1.0105, "type": "quantitative", "axis": null}}},
 {"data": {"values": [{}]}, "mark": {"type": "text", "text": "= 3.317", "fontSize": 20, "align": "left", "baseline": "middle", "dx": 13}, "encoding": {"x": {"datum": 11.4, "type": "quantitative", "axis": null}, "y": {"datum": 1.0105, "type": "quantitative", "axis": null}}}
]},
{"width": 363, "height": 229, "resolve": {"axis": {"x": "independent", "y": "independent"}}, "layer": [
 {"data": {"values": [{}]}, "mark": {"type": "rule", "color": "#9a9a9a", "strokeWidth": 1}, "encoding": {"x": {"datum": 2, "type": "quantitative", "scale": {"domain": [1.65, 20], "nice": false, "zero": false}, "axis": {"orient": "bottom", "offset": -68.7, "values": [3,4,6,7,8,9,11,12,13,14,16,17,18,19], "title": null, "domain": false, "labels": false, "tickSize": -3}}, "x2": {"datum": 20}, "y": {"datum": 1, "type": "quantitative", "scale": {"domain": [0.95, 1.05], "nice": false, "zero": false}, "axis": {"orient": "left", "offset": -6.92, "values": [0.955,0.965,0.97,0.975,0.985,0.99,0.995,1.005,1.01,1.015,1.025,1.03,1.035,1.045], "title": null, "domain": false, "labels": false, "tickSize": -3}}}},
 {"data": {"name": "curves"}, "transform": [{"filter": "datum.panel === 'P2'"}], "mark": {"type": "line", "clip": true, "color": "#2a2a2a", "strokeWidth": 1.3, "interpolate": "monotone"}, "encoding": {"x": {"field": "x", "type": "quantitative", "axis": {"orient": "bottom", "offset": -68.7, "values": [5,10,15,20], "format": "d", "title": null, "tickSize": -6, "labelPadding": 7, "labelFlush": false, "labelOverlap": false}}, "y": {"field": "y", "type": "quantitative", "axis": {"orient": "left", "offset": -6.92, "values": [0.96,1.0,1.02,1.04], "format": ".2f", "title": null, "tickSize": -6, "labelPadding": 9, "labelFlush": false, "labelOverlap": false}}, "detail": {"field": "p", "type": "nominal"}}},
 {"data": {"values": [{}]}, "mark": {"type": "text", "text": "r", "fontSize": 20, "fontStyle": "italic", "align": "left", "baseline": "middle"}, "encoding": {"x": {"datum": 11.4, "type": "quantitative", "axis": null}, "y": {"datum": 1.0105, "type": "quantitative", "axis": null}}},
 {"data": {"values": [{}]}, "mark": {"type": "text", "text": "= 3.317", "fontSize": 20, "align": "left", "baseline": "middle", "dx": 13}, "encoding": {"x": {"datum": 11.4, "type": "quantitative", "axis": null}, "y": {"datum": 1.0105, "type": "quantitative", "axis": null}}}
]},
{"width": 363, "height": 229, "resolve": {"axis": {"x": "independent", "y": "independent"}}, "layer": [
 {"data": {"values": [{}]}, "mark": {"type": "rule", "color": "#9a9a9a", "strokeWidth": 1}, "encoding": {"x": {"datum": 2, "type": "quantitative", "scale": {"domain": [1.65, 20], "nice": false, "zero": false}, "axis": {"orient": "bottom", "offset": -68.7, "values": [3,4,6,7,8,9,11,12,13,14,16,17,18,19], "title": null, "domain": false, "labels": false, "tickSize": -3}}, "x2": {"datum": 20}, "y": {"datum": 1, "type": "quantitative", "scale": {"domain": [0.95, 1.05], "nice": false, "zero": false}, "axis": {"orient": "left", "offset": -6.92, "values": [0.955,0.965,0.97,0.975,0.985,0.99,0.995,1.005,1.01,1.015,1.025,1.03,1.035,1.045], "title": null, "domain": false, "labels": false, "tickSize": -3}}}},
 {"data": {"name": "curves"}, "transform": [{"filter": "datum.panel === 'B2'"}], "mark": {"type": "line", "clip": true, "color": "#2a2a2a", "strokeWidth": 1.3, "interpolate": "monotone"}, "encoding": {"x": {"field": "x", "type": "quantitative", "axis": {"orient": "bottom", "offset": -68.7, "values": [5,10,15,20], "format": "d", "title": null, "tickSize": -6, "labelPadding": 7, "labelFlush": false, "labelOverlap": false}}, "y": {"field": "y", "type": "quantitative", "axis": {"orient": "left", "offset": -6.92, "values": [0.96,1.0,1.02,1.04], "format": ".2f", "title": null, "tickSize": -6, "labelPadding": 9, "labelFlush": false, "labelOverlap": false}}, "detail": {"field": "p", "type": "nominal"}}},
 {"data": {"values": [{}]}, "mark": {"type": "text", "text": "r", "fontSize": 20, "fontStyle": "italic", "align": "left", "baseline": "middle"}, "encoding": {"x": {"datum": 11.4, "type": "quantitative", "axis": null}, "y": {"datum": 1.0105, "type": "quantitative", "axis": null}}},
 {"data": {"values": [{}]}, "mark": {"type": "text", "text": "= 3.317", "fontSize": 20, "align": "left", "baseline": "middle", "dx": 13}, "encoding": {"x": {"datum": 11.4, "type": "quantitative", "axis": null}, "y": {"datum": 1.0105, "type": "quantitative", "axis": null}}}
]},
{"width": 363, "height": 229, "resolve": {"axis": {"x": "independent", "y": "independent"}}, "layer": [
 {"data": {"values": [{}]}, "mark": {"type": "rule", "color": "#9a9a9a", "strokeWidth": 1}, "encoding": {"x": {"datum": 2, "type": "quantitative", "scale": {"domain": [1.65, 20], "nice": false, "zero": false}, "axis": {"orient": "bottom", "offset": -68.7, "values": [3,4,6,7,8,9,11,12,13,14,16,17,18,19], "title": null, "domain": false, "labels": false, "tickSize": -3}}, "x2": {"datum": 20}, "y": {"datum": 1, "type": "quantitative", "scale": {"domain": [0.95, 1.05], "nice": false, "zero": false}, "axis": {"orient": "left", "offset": -6.92, "values": [0.955,0.965,0.97,0.975,0.985,0.99,0.995,1.005,1.01,1.015,1.025,1.03,1.035,1.045], "title": null, "domain": false, "labels": false, "tickSize": -3}}}},
 {"data": {"name": "curves"}, "transform": [{"filter": "datum.panel === 'A3'"}], "mark": {"type": "line", "clip": true, "color": "#2a2a2a", "strokeWidth": 1.3, "interpolate": "monotone"}, "encoding": {"x": {"field": "x", "type": "quantitative", "axis": {"orient": "bottom", "offset": -68.7, "values": [5,10,15,20], "format": "d", "title": null, "tickSize": -6, "labelPadding": 7, "labelFlush": false, "labelOverlap": false}}, "y": {"field": "y", "type": "quantitative", "axis": {"orient": "left", "offset": -6.92, "values": [0.96,1.0,1.02,1.04], "format": ".2f", "title": null, "tickSize": -6, "labelPadding": 9, "labelFlush": false, "labelOverlap": false}}, "detail": {"field": "p", "type": "nominal"}}},
 {"data": {"values": [{}]}, "mark": {"type": "text", "text": "r", "fontSize": 20, "fontStyle": "italic", "align": "left", "baseline": "middle"}, "encoding": {"x": {"datum": 11.4, "type": "quantitative", "axis": null}, "y": {"datum": 1.0105, "type": "quantitative", "axis": null}}},
 {"data": {"values": [{}]}, "mark": {"type": "text", "text": "= 10", "fontSize": 20, "align": "left", "baseline": "middle", "dx": 13}, "encoding": {"x": {"datum": 11.4, "type": "quantitative", "axis": null}, "y": {"datum": 1.0105, "type": "quantitative", "axis": null}}}
]},
{"width": 363, "height": 229, "resolve": {"axis": {"x": "independent", "y": "independent"}}, "layer": [
 {"data": {"values": [{}]}, "mark": {"type": "rule", "color": "#9a9a9a", "strokeWidth": 1}, "encoding": {"x": {"datum": 2, "type": "quantitative", "scale": {"domain": [1.65, 20], "nice": false, "zero": false}, "axis": {"orient": "bottom", "offset": -68.7, "values": [3,4,6,7,8,9,11,12,13,14,16,17,18,19], "title": null, "domain": false, "labels": false, "tickSize": -3}}, "x2": {"datum": 20}, "y": {"datum": 1, "type": "quantitative", "scale": {"domain": [0.95, 1.05], "nice": false, "zero": false}, "axis": {"orient": "left", "offset": -6.92, "values": [0.955,0.965,0.97,0.975,0.985,0.99,0.995,1.005,1.01,1.015,1.025,1.03,1.035,1.045], "title": null, "domain": false, "labels": false, "tickSize": -3}}}},
 {"data": {"name": "curves"}, "transform": [{"filter": "datum.panel === 'P3'"}], "mark": {"type": "line", "clip": true, "color": "#2a2a2a", "strokeWidth": 1.3, "interpolate": "monotone"}, "encoding": {"x": {"field": "x", "type": "quantitative", "axis": {"orient": "bottom", "offset": -68.7, "values": [5,10,15,20], "format": "d", "title": null, "tickSize": -6, "labelPadding": 7, "labelFlush": false, "labelOverlap": false}}, "y": {"field": "y", "type": "quantitative", "axis": {"orient": "left", "offset": -6.92, "values": [0.96,1.0,1.02,1.04], "format": ".2f", "title": null, "tickSize": -6, "labelPadding": 9, "labelFlush": false, "labelOverlap": false}}, "detail": {"field": "p", "type": "nominal"}}},
 {"data": {"values": [{}]}, "mark": {"type": "text", "text": "r", "fontSize": 20, "fontStyle": "italic", "align": "left", "baseline": "middle"}, "encoding": {"x": {"datum": 11.4, "type": "quantitative", "axis": null}, "y": {"datum": 1.0105, "type": "quantitative", "axis": null}}},
 {"data": {"values": [{}]}, "mark": {"type": "text", "text": "= 10", "fontSize": 20, "align": "left", "baseline": "middle", "dx": 13}, "encoding": {"x": {"datum": 11.4, "type": "quantitative", "axis": null}, "y": {"datum": 1.0105, "type": "quantitative", "axis": null}}},
 {"data": {"values": [{}]}, "mark": {"type": "text", "text": "# of samples per wavelength", "fontSize": 23, "align": "center", "baseline": "middle"}, "encoding": {"x": {"datum": 11, "type": "quantitative", "axis": null}, "y": {"datum": 0.9552, "type": "quantitative", "axis": null}}}
]},
{"width": 363, "height": 229, "resolve": {"axis": {"x": "independent", "y": "independent"}}, "layer": [
 {"data": {"values": [{}]}, "mark": {"type": "rule", "color": "#9a9a9a", "strokeWidth": 1}, "encoding": {"x": {"datum": 2, "type": "quantitative", "scale": {"domain": [1.65, 20], "nice": false, "zero": false}, "axis": {"orient": "bottom", "offset": -68.7, "values": [3,4,6,7,8,9,11,12,13,14,16,17,18,19], "title": null, "domain": false, "labels": false, "tickSize": -3}}, "x2": {"datum": 20}, "y": {"datum": 1, "type": "quantitative", "scale": {"domain": [0.95, 1.05], "nice": false, "zero": false}, "axis": {"orient": "left", "offset": -6.92, "values": [0.955,0.965,0.97,0.975,0.985,0.99,0.995,1.005,1.01,1.015,1.025,1.03,1.035,1.045], "title": null, "domain": false, "labels": false, "tickSize": -3}}}},
 {"data": {"name": "curves"}, "transform": [{"filter": "datum.panel === 'B3'"}], "mark": {"type": "line", "clip": true, "color": "#2a2a2a", "strokeWidth": 1.3, "interpolate": "monotone"}, "encoding": {"x": {"field": "x", "type": "quantitative", "axis": {"orient": "bottom", "offset": -68.7, "values": [5,10,15,20], "format": "d", "title": null, "tickSize": -6, "labelPadding": 7, "labelFlush": false, "labelOverlap": false}}, "y": {"field": "y", "type": "quantitative", "axis": {"orient": "left", "offset": -6.92, "values": [0.96,1.0,1.02,1.04], "format": ".2f", "title": null, "tickSize": -6, "labelPadding": 9, "labelFlush": false, "labelOverlap": false}}, "detail": {"field": "p", "type": "nominal"}}},
 {"data": {"values": [{}]}, "mark": {"type": "text", "text": "r", "fontSize": 20, "fontStyle": "italic", "align": "left", "baseline": "middle"}, "encoding": {"x": {"datum": 11.4, "type": "quantitative", "axis": null}, "y": {"datum": 1.0105, "type": "quantitative", "axis": null}}},
 {"data": {"values": [{}]}, "mark": {"type": "text", "text": "= 10", "fontSize": 20, "align": "left", "baseline": "middle", "dx": 13}, "encoding": {"x": {"datum": 11.4, "type": "quantitative", "axis": null}, "y": {"datum": 1.0105, "type": "quantitative", "axis": null}}}
]}
]
}
